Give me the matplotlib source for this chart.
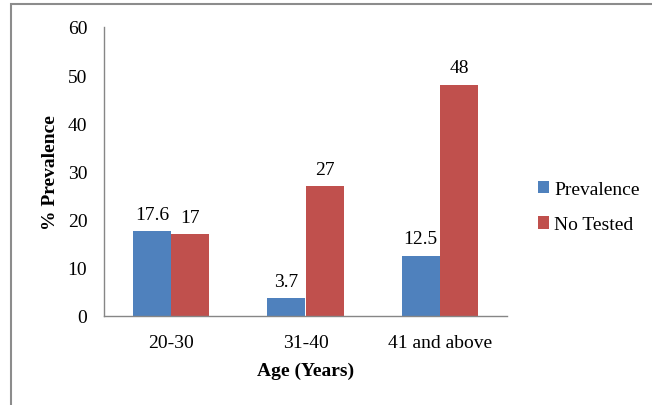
import matplotlib
matplotlib.use("Agg")
import matplotlib.pyplot as plt
import numpy as np
from matplotlib.patches import Rectangle

categories = ["20-30", "31-40", "41 and above"]
prevalence = [17.6, 3.7, 12.5]
no_tested = [17, 27, 48]
prevalence_labels = ["17.6", "3.7", "12.5"]
no_tested_labels = ["17", "27", "48"]
y_ticks = [0, 10, 20, 30, 40, 50, 60]

plt.rcParams["font.family"] = ["Liberation Serif", "DejaVu Serif"]
FS = 14

fig = plt.figure(figsize=(6.52, 4.06), dpi=100)
ax = fig.add_axes([104 / 652, 89 / 406, 403 / 652, 289 / 406])

# outer chart-area border
fig.patches.append(Rectangle((11 / 652, -0.05), 1.0, 1.05 - 5 / 406,
                             transform=fig.transFigure, fill=False,
                             edgecolor="#8c8c8c", linewidth=1.5))

x = np.arange(len(categories))
w = 0.285
blue = "#4F81BD"
red = "#C0504D"
b1 = ax.bar(x - w / 2, prevalence, w, color=blue, label="Prevalence")
b2 = ax.bar(x + w / 2, no_tested, w, color=red, label="No Tested")

for bars, labels in ((b1, prevalence_labels), (b2, no_tested_labels)):
    for bar, lab in zip(bars, labels):
        ax.annotate(lab, (bar.get_x() + bar.get_width() / 2, bar.get_height()),
                    xytext=(0, 6), textcoords="offset points",
                    ha="center", va="bottom", fontsize=FS)

ax.set_xlim(-0.5, 2.5)
ax.set_ylim(0, 60)
ax.set_yticks(y_ticks)
ax.set_xticks(x)
ax.set_xticklabels(categories)
ax.tick_params(axis="both", length=0, labelsize=FS)
ax.tick_params(axis="y", pad=12)
ax.tick_params(axis="x", pad=13)

for s in ("top", "right"):
    ax.spines[s].set_visible(False)
for s in ("left", "bottom"):
    ax.spines[s].set_color("#868686")
    ax.spines[s].set_linewidth(1.0)

ax.set_ylabel("% Prevalence", fontsize=FS, fontweight="bold", labelpad=6)
ax.set_xlabel("Age (Years)", fontsize=FS, fontweight="bold", labelpad=8)

fig.legend(handles=[b1, b2], loc="center left",
           bbox_to_anchor=(520 / 652, 1 - 208 / 406), frameon=False,
           fontsize=FS, handlelength=0.6, handleheight=0.6,
           handletextpad=0.25, labelspacing=0.95)

fig.savefig("out.png", dpi=100)
